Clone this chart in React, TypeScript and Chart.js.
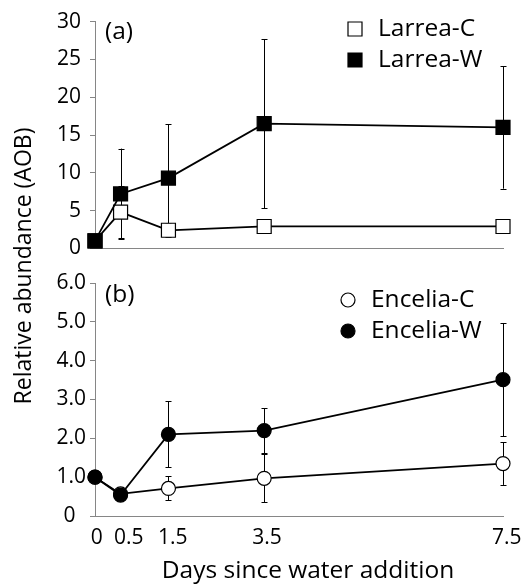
import React, { useEffect, useRef } from 'react';
import { Chart, registerables } from 'chart.js';

Chart.register(...registerables);

// Sampling times (days) as placed on the x axis of the picture
const sampleDays = [0, 0.47, 1.35, 3.11, 7.5];
// Tick label positions and their texts
const xTickValues = [0.03, 0.62, 1.43, 3.16, 7.57];
const xTickLabels = ['0', '0.5', '1.5', '3.5', '7.5'];

// Panel (a): Larrea
const larreaC = [1.0, 4.8, 2.4, 2.9, 2.9];
const larreaCErr = [0, 3.4, 0.9, 0.5, 0.4];
const larreaW = [1.0, 7.2, 9.3, 16.5, 16.0];
const larreaWErr = [0, 6.0, 7.1, 11.2, 8.1];

// Panel (b): Encelia
const enceliaC = [1.0, 0.57, 0.71, 0.97, 1.35];
const enceliaCErr = [0, 0.08, 0.31, 0.62, 0.55];
const enceliaW = [1.0, 0.54, 2.1, 2.2, 3.51];
const enceliaWErr = [0, 0.1, 0.85, 0.58, 1.46];

const yTicksA = [0, 5, 10, 15, 20, 25, 30];
const yTicksB = [0, 1, 2, 3, 4, 5, 6];

const FONT = '"Open Sans"';
const AXIS_GRAY = '#868686';
const BIG = 24.5;

const pts = (ys: number[]) => ys.map((y, i) => ({ x: sampleDays[i], y }));

const errorBarPlugin = {
  id: 'errorBars',
  beforeDatasetsDraw(chart: any) {
    const ctx = chart.ctx;
    const yScale = chart.scales.y;
    ctx.save();
    ctx.strokeStyle = '#000';
    ctx.lineWidth = 1;
    chart.data.datasets.forEach((ds: any, di: number) => {
      const meta = chart.getDatasetMeta(di);
      (ds.errors || []).forEach((e: number, i: number) => {
        if (!e) return;
        const el = meta.data[i];
        const v = ds.data[i].y;
        const x = Math.round(el.x) + 0.5;
        const yTop = yScale.getPixelForValue(v + e);
        const yBot = yScale.getPixelForValue(v - e);
        ctx.beginPath();
        ctx.moveTo(x, yTop);
        ctx.lineTo(x, yBot);
        ctx.moveTo(x - 3, Math.round(yTop) + 0.5);
        ctx.lineTo(x + 3, Math.round(yTop) + 0.5);
        ctx.moveTo(x - 3, Math.round(yBot) + 0.5);
        ctx.lineTo(x + 3, Math.round(yBot) + 0.5);
        ctx.stroke();
      });
    });
    ctx.restore();
  },
};

function drawMarker(ctx: any, kind: string, fill: string, x: number, y: number) {
  ctx.save();
  ctx.fillStyle = fill;
  ctx.strokeStyle = '#000';
  ctx.lineWidth = 1.2;
  ctx.beginPath();
  if (kind === 'rect') {
    ctx.rect(x - 7, y - 7, 14, 14);
  } else {
    ctx.arc(x, y, 7, 0, Math.PI * 2);
  }
  ctx.fill();
  ctx.stroke();
  ctx.restore();
}

const makeTextPlugin = (opts: {
  panel: string;
  panelY: number;
  legendX: number;
  textX: number;
  legendY: number[];
  titles?: boolean;
}) => ({
  id: 'panelText',
  afterDraw(chart: any) {
    const ctx = chart.ctx;
    ctx.save();
    ctx.fillStyle = '#000';
    ctx.textBaseline = 'middle';
    ctx.textAlign = 'left';
    ctx.font = `${BIG}px ${FONT}`;
    ctx.fillText(opts.panel, 105, opts.panelY);
    chart.data.datasets.forEach((ds: any, i: number) => {
      drawMarker(ctx, ds.pointStyle, ds.pointBackgroundColor, opts.legendX, opts.legendY[i]);
      ctx.fillStyle = '#000';
      ctx.fillText(ds.label, opts.textX, opts.legendY[i]);
    });
    if (opts.titles) {
      ctx.textAlign = 'center';
      ctx.fillText('Days since water addition', 308, 571);
      ctx.font = `23px ${FONT}`;
      ctx.translate(24, 266);
      ctx.rotate(-Math.PI / 2);
      ctx.fillText('Relative abundance (AOB)', 0, 0);
    }
    ctx.restore();
  },
});

const lineDs = (label: string, ys: number[], errs: number[], style: string, fill: string, order: number) => ({
  label,
  data: pts(ys),
  errors: errs,
  pointStyle: style,
  pointRadius: style === 'rect' ? 9.9 : 7,
  pointBackgroundColor: fill,
  pointBorderColor: '#000',
  pointBorderWidth: 1.2,
  borderColor: '#000',
  borderWidth: 1.75,
  fill: false,
  tension: 0,
  clip: false,
  order,
});

const yAxis = (ticks: number[], max: number, padding: number, fmt: (v: number) => string) => ({
  type: 'linear',
  min: 0,
  max,
  afterBuildTicks: (s: any) => {
    s.ticks = ticks.map((v) => ({ value: v }));
  },
  afterFit: (s: any) => {
    s.width = 95;
  },
  ticks: {
    color: '#000',
    font: { family: FONT, size: 21 },
    padding,
    callback: (v: number) => fmt(v),
  },
  grid: { display: true, drawOnChartArea: false, drawTicks: true, tickLength: 5, color: AXIS_GRAY },
  border: { display: true, color: AXIS_GRAY, width: 1 },
});

export default function App() {
  const refA = useRef<HTMLCanvasElement>(null);
  const refB = useRef<HTMLCanvasElement>(null);

  useEffect(() => {
    const chartA = new Chart(refA.current as HTMLCanvasElement, {
      type: 'line',
      data: {
        datasets: [
          lineDs('Larrea-C', larreaC, larreaCErr, 'rect', '#ffffff', 1),
          lineDs('Larrea-W', larreaW, larreaWErr, 'rect', '#000000', 0),
        ],
      },
      options: {
        responsive: false,
        animation: false,
        layout: { padding: { left: 0, right: 21, top: 18, bottom: 17 } },
        plugins: { legend: { display: false }, tooltip: { enabled: false } },
        scales: {
          x: {
            type: 'linear',
            min: 0,
            max: 7.5,
            ticks: { display: false },
            grid: { display: false },
            border: { display: true, color: AXIS_GRAY, width: 1 },
            afterFit: (s: any) => {
              s.height = 0;
            },
          },
          y: yAxis(yTicksA, 30, 9, (v) => String(v)),
        },
      } as any,
      plugins: [
        errorBarPlugin,
        makeTextPlugin({ panel: '(a)', panelY: 32, legendX: 355, textX: 378, legendY: [29, 60] }),
      ],
    } as any);

    const chartB = new Chart(refB.current as HTMLCanvasElement, {
      type: 'line',
      data: {
        datasets: [
          lineDs('Encelia-C', enceliaC, enceliaCErr, 'circle', '#ffffff', 1),
          lineDs('Encelia-W', enceliaW, enceliaWErr, 'circle', '#000000', 0),
        ],
      },
      options: {
        responsive: false,
        animation: false,
        layout: { padding: { left: 0, right: 21, top: 283, bottom: 0 } },
        plugins: { legend: { display: false }, tooltip: { enabled: false } },
        scales: {
          x: {
            type: 'linear',
            min: 0,
            max: 7.5,
            afterBuildTicks: (s: any) => {
              s.ticks = xTickValues.map((v) => ({ value: v }));
            },
            afterFit: (s: any) => {
              s.height = 69;
            },
            ticks: {
              color: '#000',
              font: { family: FONT, size: 21 },
              padding: 1,
              autoSkip: false,
              maxRotation: 0,
              callback: (_v: number, i: number) => xTickLabels[i],
            },
            grid: { display: false },
            border: { display: true, color: AXIS_GRAY, width: 1 },
          },
          y: yAxis(yTicksB, 6, 4, (v) => (v === 0 ? '0\u2002' : v.toFixed(1))),
        },
      } as any,
      plugins: [
        errorBarPlugin,
        makeTextPlugin({ panel: '(b)', panelY: 295, legendX: 348, textX: 371, legendY: [300, 331], titles: true }),
      ],
    } as any);

    return () => {
      chartA.destroy();
      chartB.destroy();
    };
  }, []);

  return (
    <div style={{ position: 'absolute', left: 0, top: 0, width: 524, height: 585, background: '#ffffff' }}>
      <canvas
        ref={refB}
        width={524}
        height={585}
        style={{ position: 'absolute', left: 0, top: 0, width: 524, height: 585 }}
      />
      <canvas
        ref={refA}
        width={524}
        height={270}
        style={{ position: 'absolute', left: 0, top: 0, width: 524, height: 270 }}
      />
    </div>
  );
}
